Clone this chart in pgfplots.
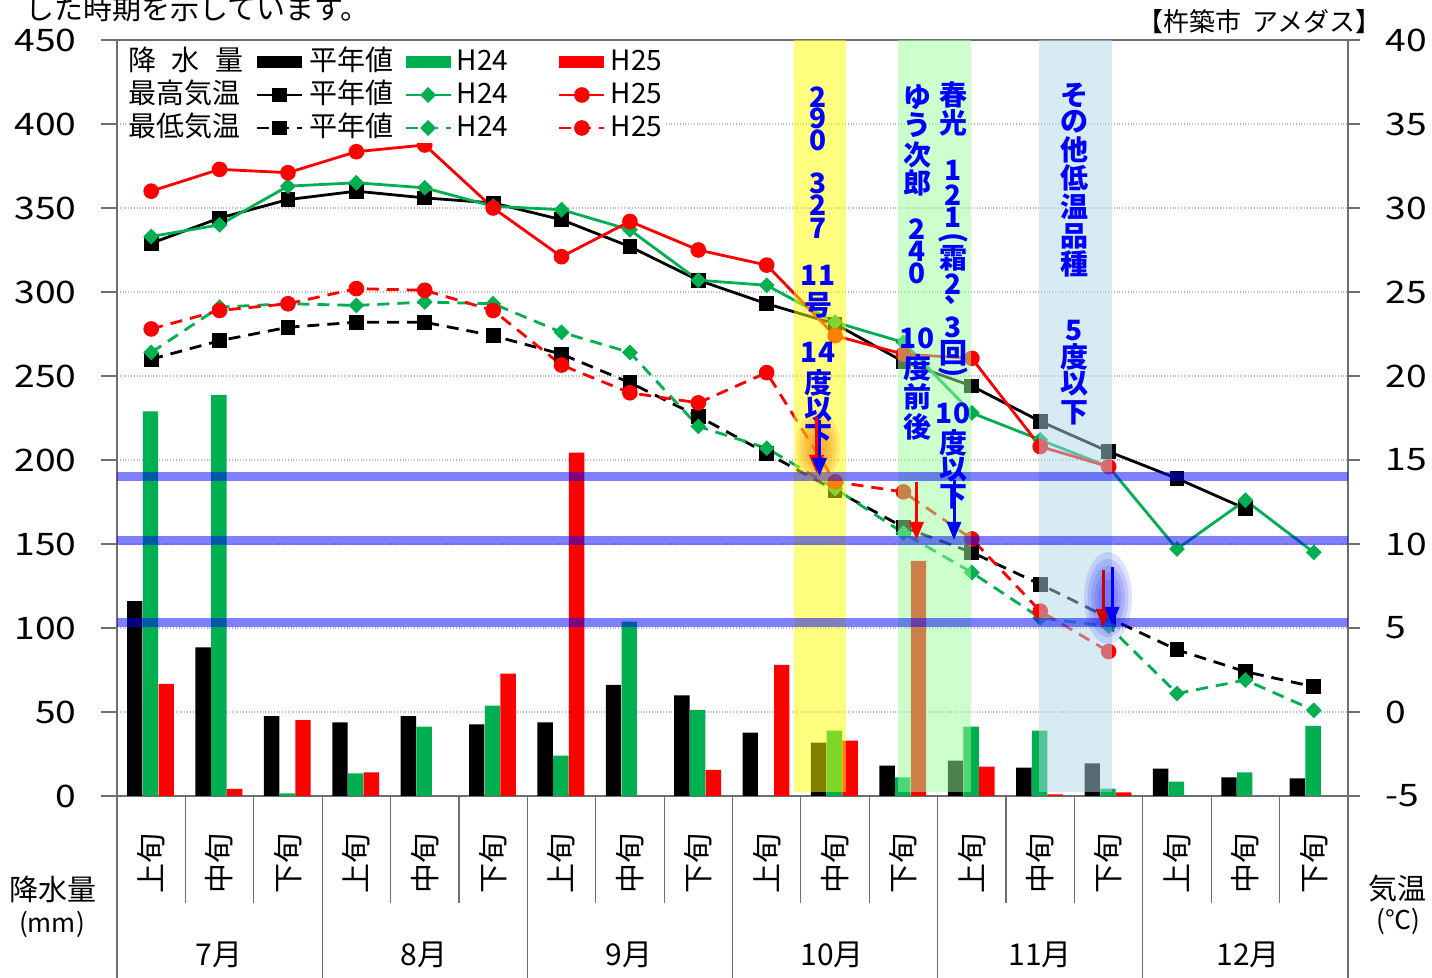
\documentclass[border=0pt]{standalone}
\usepackage{fontspec}
\setmainfont{Noto Sans CJK JP}
\usepackage{graphicx}
\usepackage{pgfplots}
\pgfplotsset{compat=1.18}
\usetikzlibrary{arrows.meta}
\definecolor{xgreen}{RGB}{0,176,80}
\definecolor{xred}{RGB}{255,0,0}
\definecolor{bandyellow}{RGB}{255,255,0}
\definecolor{bandgreen}{RGB}{153,255,153}
\definecolor{bandblue}{RGB}{173,216,230}
\definecolor{txtblue}{RGB}{0,0,255}
\definecolor{axgray}{RGB}{110,110,110}
\pgfplotsset{
 barleg/.style={legend image code/.code={\fill[##1, draw=none] (0pt,-3pt) rectangle (22.5pt,3pt);}},
 linleg/.style={legend image code/.code={\draw[##1] (0pt,0pt) -- (22.5pt,0pt); \draw[##1] plot coordinates {(11.25pt,0pt)};}},
}
\def\Jo{\rotatebox{90}{上旬}}
\def\Ch{\rotatebox{90}{中旬}}
\def\Ge{\rotatebox{90}{下旬}}
\tikzset{
 vtxt/.style={text=txtblue, font=\bfseries\fontsize{14}{14}\selectfont, inner sep=0pt, anchor=center},
 arr/.style={line width=1.5pt, -{Triangle[length=9pt,width=7pt]}},
}
\begin{document}
\begin{tikzpicture}
\useasboundingbox (0,0) rectangle (716pt,489pt);
% ---------------- precipitation axis ----------------
\begin{axis}[
  at={(58.5pt,91pt)}, anchor=south west,
  scale only axis, width=615.5pt, height=378pt,
  xmin=-0.5, xmax=17.5, ymin=0, ymax=450,
  ytick={0,50,...,450}, ytick pos=left,
  xtick={0,...,17},
  xticklabels={\Jo,\Ch,\Ge,\Jo,\Ch,\Ge,\Jo,\Ch,\Ge,\Jo,\Ch,\Ge,\Jo,\Ch,\Ge,\Jo,\Ch,\Ge},
  xtick style={draw=none},
  xticklabel style={anchor=north, inner sep=0pt, yshift=-10.5pt, font=\fontsize{15}{15}\selectfont},
  yticklabel style={xshift=-12pt, xscale=1.2, anchor=east, inner sep=0pt, font=\fontsize{15.5}{16}\selectfont},
  tick align=outside, major tick length=8pt,
  ytick style={axgray, line width=0.8pt},
  axis line style={axgray, line width=0.8pt},
  ymajorgrids, grid style={densely dotted, gray!55, line width=0.6pt},
  /pgf/number format/assume math mode=true,
]
\addplot[ybar, bar width=0.225, bar shift=-0.24, fill=black, draw=none] coordinates {
(0,116) (1,88.5) (2,47.6) (3,43.8) (4,47.6) (5,42.7) (6,43.8) (7,66.1) (8,59.9)
(9,37.7) (10,31.7) (11,18.0) (12,21.0) (13,16.9) (14,19.4) (15,16.3) (16,11.1) (17,10.5)};
\addplot[ybar, bar width=0.225, bar shift=-0.01, fill=xgreen, draw=none] coordinates {
(0,229) (1,238.7) (2,1.5) (3,13.5) (4,41.3) (5,53.8) (6,24.0) (7,103.8) (8,51.2)
(10,38.9) (11,11.1) (12,41.3) (13,38.9) (14,4.4) (15,8.5) (16,14.1) (17,41.8)};
\addplot[ybar, bar width=0.225, bar shift=0.22, fill=xred, draw=none] coordinates {
(0,66.7) (1,4.2) (2,45.2) (3,14.1) (5,72.8) (6,204.4) (8,15.5)
(9,78.0) (10,32.9) (11,139.9) (12,17.5) (13,1.0) (14,2.2)};
\end{axis}
% ---------------- temperature axis ----------------
\begin{axis}[
  at={(58.5pt,91pt)}, anchor=south west,
  scale only axis, width=615.5pt, height=378pt,
  xmin=-0.5, xmax=17.5, ymin=-5, ymax=40,
  axis x line=none, axis y line*=right,
  ytick={-5,0,...,40},
  tick align=outside, major tick length=6pt,
  ytick style={axgray, line width=0.8pt},
  axis line style={axgray, line width=0.8pt},
  yticklabel style={xshift=12.5pt, xscale=1.2, anchor=west, inner sep=0pt, font=\fontsize{15.5}{16}\selectfont},
  /pgf/number format/assume math mode=true,
  legend columns=4,
  legend cell align=left,
  legend style={at={(axis description cs:0,1)}, anchor=north west, xshift=5.5pt, yshift=-3.3pt,
    draw=none, fill=white, inner sep=0pt, column sep=0pt, row sep=1.5pt,
    font=\fontsize{14}{16}\selectfont,
    nodes={inner sep=0pt, text height=12pt, text depth=3pt}},
  every axis plot/.append style={line width=1.4pt},
]
% max temperature
\addplot[forget plot, black, mark=square*, mark size=3pt] coordinates {
(0,27.9) (1,29.4) (2,30.5) (3,31.0) (4,30.6) (5,30.3) (6,29.3) (7,27.7) (8,25.7)
(9,24.3) (10,23.1) (11,20.85) (12,19.4) (13,17.3) (14,15.5) (15,13.9) (16,12.1)};
\addplot[forget plot, xgreen, mark=square*, mark size=2.1pt, mark options={rotate=45}] coordinates {
(0,28.3) (1,29.0) (2,31.3) (3,31.5) (4,31.2) (5,30.1) (6,29.9) (7,28.7) (8,25.7)
(9,25.4) (10,23.2) (11,22.0) (12,17.8) (13,16.2) (14,14.6) (15,9.7) (16,12.6) (17,9.5)};
\addplot[forget plot, xred, mark=*, mark size=3.2pt] coordinates {
(0,31.0) (1,32.3) (2,32.1) (3,33.35) (4,33.75) (5,30.0) (6,27.1) (7,29.2) (8,27.5)
(9,26.6) (10,22.4) (11,21.3) (12,21.05) (13,15.8) (14,14.6)};
% min temperature
\addplot[forget plot, black, dash pattern=on 6pt off 4pt, mark=square*, mark size=3pt, mark options={solid}] coordinates {
(0,21.0) (1,22.1) (2,22.9) (3,23.2) (4,23.2) (5,22.4) (6,21.3) (7,19.6) (8,17.6)
(9,15.4) (10,13.2) (11,11.0) (12,9.5) (13,7.6) (14,5.6) (15,3.7) (16,2.4) (17,1.5)};
\addplot[forget plot, xgreen, dash pattern=on 6pt off 4pt, mark=square*, mark size=2.1pt, mark options={solid,rotate=45}] coordinates {
(0,21.4) (1,24.1) (2,24.3) (3,24.2) (4,24.4) (5,24.3) (6,22.6) (7,21.4) (8,17.0)
(9,15.7) (10,13.3) (11,10.65) (12,8.3) (13,5.6) (14,5.1) (15,1.1) (16,1.9) (17,0.1)};
\addplot[forget plot, xred, dash pattern=on 6pt off 4pt, mark=*, mark size=3.2pt, mark options={solid}] coordinates {
(0,22.8) (1,23.9) (2,24.3) (3,25.2) (4,25.1) (5,23.9) (6,20.65) (7,19.0) (8,18.4)
(9,20.2) (10,13.7) (11,13.1) (12,10.3) (13,6.0) (14,3.6)};
% legend
\addlegendimage{empty legend}\addlegendentry{\makebox[63.5pt][l]{\makebox[57.5pt][s]{降\hfill 水\hfill 量}}}
\addlegendimage{barleg, fill=black}\addlegendentry{\makebox[50.5pt][l]{\hspace{3pt}平年値}}
\addlegendimage{barleg, fill=xgreen}\addlegendentry{\makebox[53pt][l]{\hspace{2.5pt}H24}}
\addlegendimage{barleg, fill=xred}\addlegendentry{\makebox[30pt][l]{\hspace{2.5pt}H25}}
\addlegendimage{empty legend}\addlegendentry{\makebox[63.5pt][l]{最高気温}}
\addlegendimage{linleg, black, line width=1.4pt, mark=square*, mark size=3pt}\addlegendentry{\makebox[50.5pt][l]{\hspace{3pt}平年値}}
\addlegendimage{linleg, xgreen, line width=1.4pt, mark=square*, mark size=2.1pt, mark options={rotate=45}}\addlegendentry{\makebox[53pt][l]{\hspace{2.5pt}H24}}
\addlegendimage{linleg, xred, line width=1.4pt, mark=*, mark size=3.2pt}\addlegendentry{\makebox[30pt][l]{\hspace{2.5pt}H25}}
\addlegendimage{empty legend}\addlegendentry{\makebox[63.5pt][l]{最低気温}}
\addlegendimage{linleg, black, line width=1.4pt, dash pattern=on 6pt off 4pt, mark=square*, mark size=3pt, mark options={solid}}\addlegendentry{\makebox[50.5pt][l]{\hspace{3pt}平年値}}
\addlegendimage{linleg, xgreen, line width=1.4pt, dash pattern=on 6pt off 4pt, mark=square*, mark size=2.1pt, mark options={solid,rotate=45}}\addlegendentry{\makebox[53pt][l]{\hspace{2.5pt}H24}}
\addlegendimage{linleg, xred, line width=1.4pt, dash pattern=on 6pt off 4pt, mark=*, mark size=3.2pt, mark options={solid}}\addlegendentry{\makebox[30pt][l]{\hspace{2.5pt}H25}}
\end{axis}
% ---------------- annotations in pixel coordinates ----------------
\begin{scope}[shift={(0,489pt)}, x=0.5pt, y=-0.5pt]
 % bands
 \fill[bandyellow, opacity=0.5] (794,40) rectangle (846,792);
 \fill[bandgreen, opacity=0.5] (898,40) rectangle (971,792);
 \fill[bandblue, opacity=0.5] (1038.5,40) rectangle (1112,792);
 % threshold lines
 \foreach \yy in {476.3,540.3,622.7} \draw[blue, opacity=0.5, line width=4.35pt] (117,\yy) -- (1348,\yy);
 % glows
 \foreach \r in {1,0.85,0.7,0.55,0.4} \fill[orange, opacity=0.16] (818,447) ellipse ({22*\r} and {36*\r});
 \foreach \r in {1,0.85,0.7,0.55,0.4} \fill[blue, opacity=0.12] (1108,598) ellipse ({24*\r} and {46*\r});
 % vertical texts
 \foreach \c/\yy in {2/97, 9/118, 0/140, 3/183, 2/205, 7/228, 11/275, 号/305, 14/352, 度/383, 以/410, 下/437}
   \node[vtxt] at (818,\yy) {\c};
 \foreach \c/\yy in {ゆ/97, う/125, 次/155, 郎/183, 2/229, 4/251, 0/273, 10/338, 度/368, 前/397, 後/427}
   \node[vtxt] at (917,\yy) {\c};
 \foreach \c/\yy in {春/95, 光/123, 1/170, 2/195, 1/217, 霜/258, 2/284, 3/327, 回/353, 10/413, 度/443, 以/470, 下/497}
   \node[vtxt] at (953,\yy) {\c};
 \node[vtxt, rotate=-90] at (953,238) {(};
 \node[vtxt, rotate=-90] at (953,372) {)};
 \node[vtxt] at (958,300) {、};
 \foreach \c/\yy in {そ/95, の/122, 他/150, 低/178, 温/207, 品/236, 種/264, 5/331, 度/357, 以/384, 下/413}
   \node[vtxt] at (1074,\yy) {\c};
 % arrows
 \draw[arr, xred] (816.5,417) -- (816.5,473);
 \draw[arr, txtblue] (819.5,420) -- (819.5,476);
 \draw[arr, xred] (916.5,482) -- (916.5,540);
 \draw[arr, txtblue] (954,480) -- (954,540);
 \draw[arr, xred!80!black] (1103,570) -- (1103,627);
 \draw[arr, txtblue] (1112,567) -- (1112,625);
 % table lines under the x axis
 \foreach \k in {1,2,4,5,7,8,10,11,13,14,16,17}
   \draw[axgray, line width=0.6pt] ({117+68.389*\k},796) -- ({117+68.389*\k},903);
 \foreach \k in {0,3,6,9,12,15,18}
   \draw[axgray, line width=0.6pt] ({117+68.389*\k},796) -- ({117+68.389*\k},980);
 % month labels
 \foreach \m/\xx in {7月/219, 8月/424, 9月/629, 10月/832, 11月/1040, 12月/1248}
   \node[font=\fontsize{15}{15}\selectfont, inner sep=0pt] at (\xx,955) {\m};
 % other texts
 \node[anchor=base west, font=\fontsize{14.5}{15}\selectfont, inner sep=0pt] at (25,20) {した時期を示しています。};
 \node[anchor=east, font=\fontsize{13}{13}\selectfont, inner sep=0pt] at (1382,22) {【杵築市\hspace{0.45em}アメダス】};
 \node[font=\fontsize{14.5}{15}\selectfont, inner sep=0pt] at (53,889) {降水量};
 \node[font=\fontsize{13}{13}\selectfont, inner sep=0pt] at (52,924) {(mm)};
 \node[font=\fontsize{14.5}{15}\selectfont, inner sep=0pt] at (1397,889) {気温};
 \node[font=\fontsize{13}{13}\selectfont, inner sep=0pt] at (1398,921) {(℃)};
\end{scope}
\end{tikzpicture}
\end{document}
